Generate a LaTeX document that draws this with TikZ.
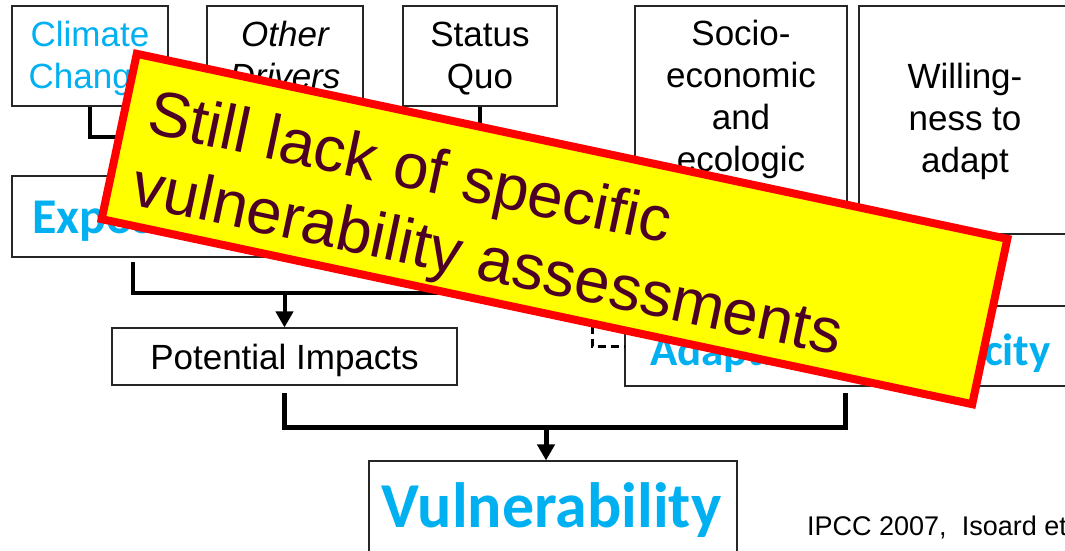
\documentclass[tikz,border=0pt]{standalone}
\usepackage{fontspec}
\setmainfont{Liberation Sans}
\newfontfamily\carl{Carlito}
\usetikzlibrary{arrows.meta,calc}
\definecolor{cy}{HTML}{00B0F0}
\definecolor{banred}{HTML}{FF0000}
\definecolor{banyel}{HTML}{FFFF00}
\definecolor{bantext}{HTML}{4D0026}
\begin{document}
\begin{tikzpicture}[x=1pt,y=-1pt,
  box/.style={draw=black!85, line width=1.1pt, inner sep=0pt, rectangle},
  lbl/.style={inner sep=0pt, align=center, font=\fontsize{35}{42}\selectfont},
  big/.style={inner sep=0pt, text=cy, font=\carl\bfseries},
  conn/.style={line width=4pt, line join=miter, draw=black},
  connb/.style={line width=5pt, line join=miter, draw=black},
  tip/.style={-{Triangle[length=16pt,width=17pt]}}]
\useasboundingbox (0,0) rectangle (1065,550);
\fill[white] (0,0) rectangle (1065,550);
\clip (0,0) rectangle (1065,550);

% boxes
\node[box, minimum width=156pt, minimum height=100pt] (cc) at (90,56) {};
\node[box, minimum width=156pt, minimum height=100pt] (od) at (285,56) {};
\node[box, minimum width=154pt, minimum height=100pt] (sq) at (480,56) {};
\node[box, minimum width=212pt, minimum height=228pt] (se) at (741,120) {};
\node[box, minimum width=212pt, minimum height=228pt] (wi) at (965,120) {};
\node[box, minimum width=318pt, minimum height=81pt] (ex) at (171,216.5) {};
\node[box, minimum width=345pt, minimum height=57pt] (pi) at (284.5,356.5) {};
\node[box, minimum width=452pt, minimum height=80pt] (ac) at (851,346) {};
\node[box, minimum width=368pt, minimum height=104pt] (vu) at (553,513) {};

% texts
\node[lbl, anchor=north, text=cy] (tcc) at (90,16) {\rule{0pt}{30pt}Climate\\Change};
\node[lbl, anchor=north] (tod) at (285,16) {\rule{0pt}{30pt}\itshape Other\\\itshape Drivers};
\node[lbl, anchor=north] (tsq) at (480,16) {\rule{0pt}{30pt}Status\\Quo};
\node[lbl, anchor=north] (tse) at (741,15) {\rule{0pt}{30pt}Socio-\\economic\\and\\ecologic};
\node[lbl, anchor=north] (twi) at (965,58) {\rule{0pt}{30pt}Willing-\\ness to\\adapt};
\node[lbl, anchor=base] (tpi) at (284.5,369) {Potential Impacts};
\node[big, anchor=base west, font=\carl\bfseries\fontsize{50}{60}\selectfont] (tex) at (32,233) {Exposure};
\node[big, anchor=base west, font=\carl\bfseries\fontsize{45}{54}\selectfont] (tac) at (650,365) {Adaptive\hspace{74pt}Capacity};
\node[big, anchor=base, font=\carl\bfseries\fontsize{64}{76}\selectfont] (tvu) at (551.5,527) {Vulnerability};
\node[inner sep=0pt, anchor=base west, font=\fontsize{27}{32}\selectfont] (cite) at (807,535) {IPCC 2007,\ \ Isoard et};

% connectors
\coordinate (j0) at (285,137);
\draw[conn] (cc.south) |- (j0);
\draw[conn] (od.south) -- (j0) -- (ex.north -| j0);
\coordinate (sqd) at (480,165);
\draw[conn] (sq.south) -- (sqd);

\coordinate (e1) at (133,262);
\coordinate (e2) at (460,262);
\coordinate (j1) at (284.5,293);
\draw[conn] (e1) |- (j1) -| (e2);
\draw[conn, tip] (j1) -- (pi.north);

\coordinate (p1) at (284.5,393);
\coordinate (a1) at (845,393);
\coordinate (j2) at (546,427);
\draw[connb] (p1) |- (j2) -| (a1);
\draw[connb, tip] (j2) -- (vu.north -| j2);

\coordinate (d0) at (592,300);
\draw[line width=3pt, dash pattern=on 8pt off 5pt] (d0) |- (ac.west);

% banner
\node[draw=banred, fill=banyel, line width=8pt, minimum width=890pt, minimum height=169pt, inner sep=0pt, rotate=-12] (ban) at (554.5,229) {};
\node[anchor=north west, rotate=-12, inner sep=0pt, align=left, text=bantext, font=\fontsize{63.5}{74}\selectfont] (bantxt) at (155.4,83.4) {\rule{0pt}{50pt}Still lack of specific\\vulnerability assessments};
\end{tikzpicture}
\end{document}
